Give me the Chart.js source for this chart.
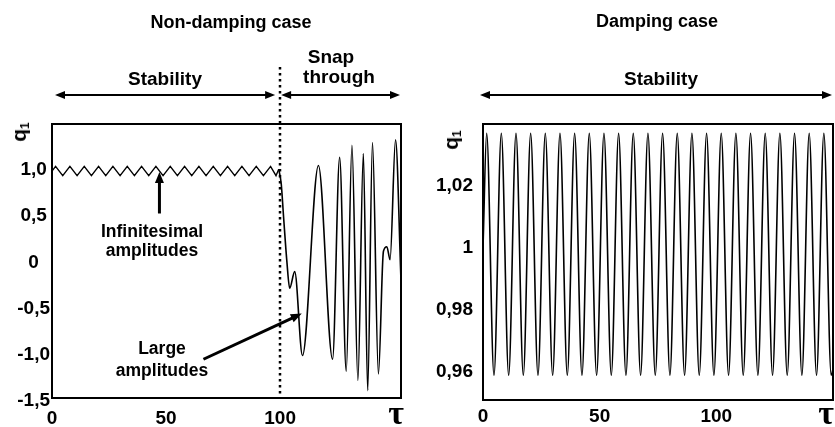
<!DOCTYPE html>
<html>
<head>
<meta charset="utf-8">
<script src="https://cdn.jsdelivr.net/npm/chart.js@4.4.1/dist/chart.umd.min.js"></script>
<style>
  body { margin: 0; background: #fff; }
  #wrap { position: relative; width: 835px; height: 427px; overflow: hidden; background: #fff; }
  canvas { position: absolute; top: 0; }
  .lbl { position: absolute; font-family: 'Liberation Sans', Arial, sans-serif; font-weight: bold;
         color: #000; white-space: nowrap; transform: translateX(-50%); }
  .q { position: absolute; font: bold 21px 'Liberation Sans', Arial, sans-serif; line-height: 21px;
       transform: translate(-50%, -50%) rotate(-90deg); white-space: nowrap; }
  .q sub { font-size: 12px; vertical-align: -3px; }
  .tau { position: absolute; font: bold 34px 'Liberation Serif', 'DejaVu Serif', serif; line-height: 34px;
         transform: translateX(-50%); }
</style>
</head>
<body>
<div id="wrap">
  <canvas id="leftChart" width="415" height="427" style="left:0"></canvas>
  <canvas id="rightChart" width="415" height="427" style="left:420px"></canvas>

  <div class="lbl" style="left:231px;top:12.8px;font-size:18px;line-height:18px">Non-damping case</div>
  <div class="lbl" style="left:657px;top:11.8px;font-size:18px;line-height:18px">Damping case</div>
  <div class="lbl" style="left:165px;top:68.9px;font-size:19px;line-height:19px">Stability</div>
  <div class="lbl" style="left:331px;top:46.9px;font-size:19px;line-height:19px">Snap</div>
  <div class="lbl" style="left:339px;top:66.9px;font-size:19px;line-height:19px">through</div>
  <div class="lbl" style="left:661px;top:68.9px;font-size:19px;line-height:19px">Stability</div>
  <div class="lbl" style="left:152px;top:223.2px;font-size:17.5px;line-height:17.5px">Infinitesimal</div>
  <div class="lbl" style="left:152px;top:242.2px;font-size:17.5px;line-height:17.5px">amplitudes</div>
  <div class="lbl" style="left:162px;top:340.2px;font-size:17.5px;line-height:17.5px">Large</div>
  <div class="lbl" style="left:162px;top:362.2px;font-size:17.5px;line-height:17.5px">amplitudes</div>

  <div class="q" style="left:22px;top:132px">q<sub>1</sub></div>
  <div class="q" style="left:454px;top:140px">q<sub>1</sub></div>
  <div class="tau" style="left:396px;top:396px">τ</div>
  <div class="tau" style="left:826px;top:396px">τ</div>
</div>

<script>
// Non-damping case, stable part (small zigzag around 1)
const tauStable = [0, 1.57, 4.71, 7.85, 11.00, 14.14, 17.28, 20.42, 23.56, 26.70, 29.85, 32.99,
  36.13, 39.27, 42.41, 45.55, 48.69, 51.84, 54.98, 58.12, 61.26, 64.40, 67.54, 70.69, 73.83,
  76.97, 80.11, 83.25, 86.39, 89.54, 92.68, 95.82, 98.2, 99.4];
const qStable = [0.99, 1.04, 0.94, 1.04, 0.94, 1.04, 0.94, 1.04, 0.94, 1.04, 0.94, 1.04,
  0.94, 1.04, 0.94, 1.04, 0.94, 1.04, 0.94, 1.04, 0.94, 1.04, 0.94, 1.04, 0.94,
  1.04, 0.94, 1.04, 0.94, 1.04, 0.94, 1.04, 0.94, 1.01];

// Non-damping case, snap through part
const tauSnap = [99.4, 100.5, 101.5, 103.0, 104.2, 106.4, 109.8, 116.8, 123.0, 126.1, 129.0,
  131.5, 134.1, 136.5, 138.4, 140.5, 143.1, 145.3, 146.8, 148.2, 150.6, 153.0];
const qSnap = [1.01, 0.85, 0.5, 0.0, -0.28, -0.10, -1.01, 1.05, -1.05, 1.14, -1.18,
  1.27, -1.28, 1.18, -1.39, 1.30, -1.21, 0.12, 0.17, 0.03, 1.33, -0.2];

// Damping case
const tauDamp = [0, 1.57, 4.71, 7.85, 11.00, 14.14, 17.28, 20.42, 23.56, 26.70, 29.85, 32.99,
  36.13, 39.27, 42.41, 45.55, 48.69, 51.84, 54.98, 58.12, 61.26, 64.40, 67.54, 70.69, 73.83,
  76.97, 80.11, 83.25, 86.39, 89.54, 92.68, 95.82, 98.96, 102.10, 105.24, 108.38, 111.53,
  114.67, 117.81, 120.95, 124.09, 127.23, 130.38, 133.52, 136.66, 139.80, 142.94, 146.08,
  149.23, 150];
const qDamp = [1.0, 1.037, 0.959, 1.037, 0.959, 1.037, 0.959, 1.037, 0.959, 1.037, 0.959, 1.037,
  0.959, 1.037, 0.959, 1.037, 0.959, 1.037, 0.959, 1.037, 0.959, 1.037, 0.959, 1.037, 0.959,
  1.037, 0.959, 1.037, 0.959, 1.037, 0.959, 1.037, 0.959, 1.037, 0.959, 1.037, 0.959,
  1.037, 0.959, 1.037, 0.959, 1.037, 0.959, 1.037, 0.959, 1.037, 0.959, 1.037,
  0.959, 0.961];

const xTicksA = [0, 50, 100];
const yTicksA = [1, 0.5, 0, -0.5, -1, -1.5];
const yLabelsA = ['1,0', '0,5', '0', '-0,5', '-1,0', '-1,5'];
const xTicksB = [0, 50, 100];
const yTicksB = [1.02, 1, 0.98, 0.96];
const yLabelsB = ['1,02', '1', '0,98', '0,96'];

const tickFont = { family: "'Liberation Sans', Arial, sans-serif", size: 19, weight: 'bold' };

function toPoints(xs, ys) {
  return xs.map((x, i) => ({ x: x, y: ys[i] }));
}

function drawArrow(ctx, x1, y1, x2, y2, both, lw, len, half) {
  const ang = Math.atan2(y2 - y1, x2 - x1);
  const c = Math.cos(ang), s = Math.sin(ang);
  ctx.lineWidth = lw;
  ctx.beginPath();
  ctx.moveTo(both ? x1 + c * len * 0.8 : x1, both ? y1 + s * len * 0.8 : y1);
  ctx.lineTo(x2 - c * len * 0.8, y2 - s * len * 0.8);
  ctx.stroke();
  const head = (tx, ty, dc, ds) => {
    ctx.beginPath();
    ctx.moveTo(tx, ty);
    ctx.lineTo(tx - dc * len - ds * half, ty - ds * len + dc * half);
    ctx.lineTo(tx - dc * len + ds * half, ty - ds * len - dc * half);
    ctx.closePath();
    ctx.fill();
  };
  head(x2, y2, c, s);
  if (both) head(x1, y1, -c, -s);
}

// frame, dotted divider, span arrows and pointer arrows
const decor = {
  id: 'decor',
  afterDraw(chart, args, opts) {
    const { ctx, chartArea: a } = chart;
    const x = chart.scales.x, y = chart.scales.y;
    ctx.save();
    ctx.strokeStyle = '#000';
    ctx.fillStyle = '#000';
    ctx.lineWidth = 2;
    ctx.strokeRect(a.left, a.top, a.right - a.left, a.bottom - a.top);

    if (opts.divider != null) {
      const px = Math.round(x.getPixelForValue(opts.divider));
      ctx.setLineDash([2.5, 3.5]);
      ctx.lineWidth = 2.5;
      ctx.beginPath();
      ctx.moveTo(px, opts.dividerTop);
      ctx.lineTo(px, a.bottom);
      ctx.stroke();
      ctx.setLineDash([]);
    }

    (opts.spans || []).forEach(sp => {
      drawArrow(ctx, x.getPixelForValue(sp[0]) + sp[2], opts.spanY,
        x.getPixelForValue(sp[1]) + sp[3], opts.spanY, true, 2.2, 10, 4);
    });

    (opts.pointers || []).forEach(p => {
      drawArrow(ctx, x.getPixelForValue(p.from[0]), y.getPixelForValue(p.from[1]),
        x.getPixelForValue(p.to[0]), y.getPixelForValue(p.to[1]), false, 3, 11, 4.5);
    });
    ctx.restore();
  }
};

function axisX(min, max, ticks, pad, h) {
  return {
    type: 'linear', min: min, max: max,
    grid: { display: false, drawTicks: false },
    border: { display: false },
    afterBuildTicks: s => { s.ticks = ticks.map(v => ({ value: v })); },
    afterFit: s => { s.height = h; },
    ticks: { color: '#000', font: tickFont, padding: pad, autoSkip: false, maxRotation: 0,
      callback: v => String(v) }
  };
}

function axisY(min, max, ticks, labels, pad, w, align) {
  return {
    min: min, max: max,
    grid: { display: false, drawTicks: false },
    border: { display: false },
    afterBuildTicks: s => { s.ticks = ticks.map(v => ({ value: v })); },
    afterFit: s => { s.width = w; },
    ticks: { color: '#000', font: tickFont, padding: pad, crossAlign: align, autoSkip: false,
      callback: v => labels[ticks.indexOf(v)] }
  };
}

new Chart(document.getElementById('leftChart'), {
  type: 'line',
  data: {
    datasets: [
      { data: toPoints(tauStable, qStable), borderColor: '#000', borderWidth: 1.4, tension: 0 },
      { data: toPoints(tauSnap, qSnap), borderColor: '#000', borderWidth: 1.6, cubicInterpolationMode: 'monotone' }
    ]
  },
  options: {
    responsive: false,
    animation: false,
    layout: { padding: { left: 0, top: 124, right: 14, bottom: 0 } },
    elements: { point: { radius: 0 } },
    plugins: {
      legend: { display: false },
      tooltip: { enabled: false },
      decor: {
        divider: 100, dividerTop: 67, spanY: 95,
        spans: [[0, 100, 3, -5], [100, 153, 1, -1]],
        pointers: [
          { from: [47.1, 0.53], to: [47.1, 0.98] },
          { from: [66.4, -1.05], to: [109.5, -0.555] }
        ]
      }
    },
    scales: {
      x: axisX(0, 153, xTicksA, 9, 29),
      y: axisY(-1.47, 1.5, yTicksA, yLabelsA, 2, 52, 'center')
    }
  },
  plugins: [decor]
});

new Chart(document.getElementById('rightChart'), {
  type: 'line',
  data: {
    datasets: [
      { data: toPoints(tauDamp, qDamp), borderColor: '#000', borderWidth: 1.6, cubicInterpolationMode: 'monotone' }
    ]
  },
  options: {
    responsive: false,
    animation: false,
    layout: { padding: { left: 0, top: 124, right: 2, bottom: 0 } },
    elements: { point: { radius: 0 } },
    plugins: {
      legend: { display: false },
      tooltip: { enabled: false },
      decor: { spanY: 95, spans: [[0, 150, -3, -1]] }
    },
    scales: {
      x: axisX(0, 150, xTicksB, 5, 27),
      y: axisY(0.951, 1.04, yTicksB, yLabelsB, 10, 63, 'near')
    }
  },
  plugins: [decor]
});
</script>
</body>
</html>
